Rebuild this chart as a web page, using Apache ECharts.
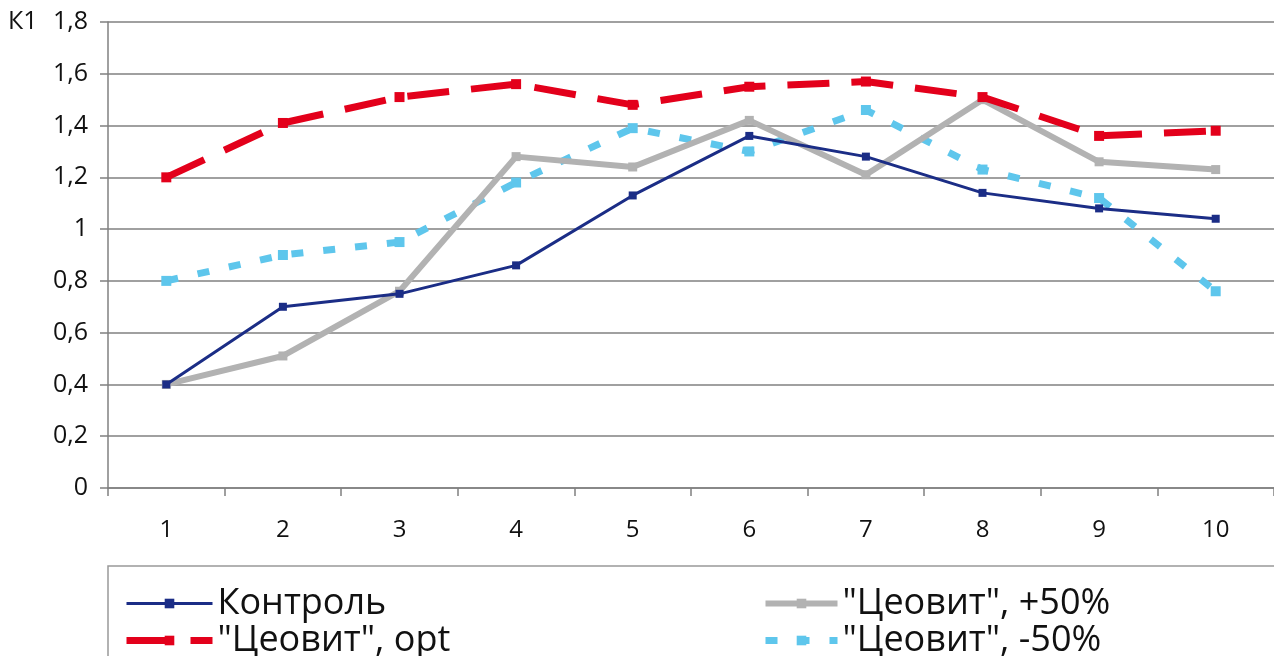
<!DOCTYPE html>
<html><head><meta charset="utf-8">
<script src="https://cdn.jsdelivr.net/npm/echarts@6/dist/echarts.min.js"></script>
<style>html,body{margin:0;padding:0;background:#fff}#c{width:1274px;height:656px}</style>
</head><body><div id="c"></div>
<script>
const categories = ['1','2','3','4','5','6','7','8','9','10'];
const yTicks = [0, 0.2, 0.4, 0.6, 0.8, 1, 1.2, 1.4, 1.6, 1.8];
const seriesNames = ['Контроль', '"Цеовит", opt', '"Цеовит", +50%', '"Цеовит", -50%'];
const control = [0.40, 0.70, 0.75, 0.86, 1.13, 1.36, 1.28, 1.14, 1.08, 1.04];
const ceovitOpt = [1.20, 1.41, 1.51, 1.56, 1.48, 1.55, 1.57, 1.51, 1.36, 1.38];
const ceovitPlus50 = [0.40, 0.51, 0.76, 1.28, 1.24, 1.42, 1.21, 1.50, 1.26, 1.23];
const ceovitMinus50 = [0.80, 0.90, 0.95, 1.18, 1.39, 1.30, 1.46, 1.23, 1.12, 0.76];

const FONT = '"Open Sans", "Noto Sans", sans-serif';
const COLORS = ['#1b2d86', '#e3001b', '#b2b2b2', '#5ec6ec'];
const WIDTHS = [3, 7, 6, 7];
const DASH = ['solid', [42, 22], 'solid', [12, 20]];
const chart = echarts.init(document.getElementById('c'));
const fmt = v => String(+(+v).toFixed(1)).replace('.', ',');
const legendText = { fontSize: 36, lineHeight: 37, fontFamily: FONT, color: '#111' };
const legendItem = i => ({ name: seriesNames[i], lineStyle: { width: WIDTHS[i], color: COLORS[i], type: DASH[i] } });
chart.setOption({
  animation: false,
  backgroundColor: '#fff',
  grid: { left: 108, top: 22, width: 1170, height: 466, containLabel: false },
  xAxis: {
    type: 'category', data: categories, boundaryGap: true,
    axisLine: { lineStyle: { color: '#808080', width: 1.5 } },
    axisTick: { show: true, length: 8, alignWithLabel: false, lineStyle: { color: '#808080', width: 1.5 } },
    axisLabel: { color: '#111', fontSize: 24, fontFamily: FONT, margin: 30 }
  },
  yAxis: {
    type: 'value', min: yTicks[0], max: yTicks[yTicks.length - 1], interval: 0.2,
    axisLine: { show: true, lineStyle: { color: '#808080', width: 1.5 } },
    axisTick: { show: true, length: 8, lineStyle: { color: '#808080', width: 1.5 } },
    splitLine: { show: true, lineStyle: { color: '#808080', width: 1.5 } },
    axisLabel: { color: '#111', fontSize: 25, fontFamily: FONT, margin: 20, formatter: fmt }
  },
  legend: [
    { data: [legendItem(0), legendItem(1)], orient: 'vertical', left: 123, top: 585, height: 120, itemGap: 0,
      itemWidth: 86, itemHeight: 12, textStyle: legendText, padding: 0 },
    { data: [legendItem(2), legendItem(3)], orient: 'vertical', left: 762, top: 585, height: 120, itemGap: 0,
      itemWidth: 72, itemHeight: 12, textStyle: legendText, padding: 0 }
  ],
  graphic: [
    { type: 'rect', shape: { x: 108, y: 566, width: 1200, height: 140 }, style: { fill: 'none', stroke: '#999', lineWidth: 1.5 }, silent: true },
    { type: 'text', x: 8, y: 22, style: { text: 'К1', font: '25px ' + FONT, fill: '#111', verticalAlign: 'middle', align: 'left' } }
  ],
  series: [
    { name: seriesNames[0], type: 'line', data: control, symbol: 'rect', symbolSize: 8,
      lineStyle: { color: COLORS[0], width: WIDTHS[0], type: DASH[0] }, itemStyle: { color: COLORS[0] }, z: 4 },
    { name: seriesNames[1], type: 'line', data: ceovitOpt, symbol: 'rect', symbolSize: 10,
      lineStyle: { color: COLORS[1], width: WIDTHS[1], type: DASH[1] }, itemStyle: { color: COLORS[1] }, z: 3 },
    { name: seriesNames[2], type: 'line', data: ceovitPlus50, symbol: 'rect', symbolSize: 9,
      lineStyle: { color: COLORS[2], width: WIDTHS[2], type: DASH[2] }, itemStyle: { color: COLORS[2] }, z: 2 },
    { name: seriesNames[3], type: 'line', data: ceovitMinus50, symbol: 'rect', symbolSize: 10,
      lineStyle: { color: COLORS[3], width: WIDTHS[3], type: DASH[3] }, itemStyle: { color: COLORS[3] }, z: 1 }
  ]
});
</script></body></html>
